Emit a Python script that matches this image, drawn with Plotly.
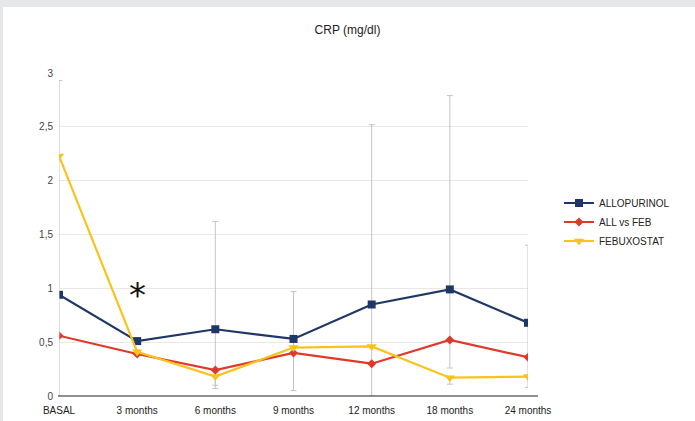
import plotly.graph_objects as go

# Visit labels and mean CRP values (mg/dl) per group
months = ["BASAL", "3 months", "6 months", "9 months", "12 months", "18 months", "24 months"]
allopurinol = [0.94, 0.51, 0.62, 0.53, 0.85, 0.99, 0.68]
all_vs_feb = [0.56, 0.39, 0.24, 0.40, 0.30, 0.52, 0.36]
febuxostat = [2.23, 0.41, 0.18, 0.45, 0.46, 0.17, 0.18]

# Dispersion bars (upper / lower extent from the mean)
allo_err_plus = [None, None, 1.00, 0.44, 1.67, 1.80, 0.72]
allo_err_minus = [None, None, 0.55, 0.48, 0.85, 0.73, 0.60]
febu_err_plus = [0.70, None, None, None, None, None, None]
febu_err_minus = [2.23, None, 0.08, None, None, 0.06, None]

NAVY = "#1f3768"
RED = "#e0392a"
YELLOW = "#f8c31c"
ERR = "#c4c4c4"

fig = go.Figure()

fig.add_trace(go.Scatter(
    x=months, y=allopurinol, name="ALLOPURINOL", mode="lines+markers",
    line=dict(color=NAVY, width=2.2),
    marker=dict(symbol="square", size=8, color=NAVY),
    error_y=dict(type="data", symmetric=False, array=allo_err_plus,
                 arrayminus=allo_err_minus, color=ERR, thickness=1, width=3),
))
fig.add_trace(go.Scatter(
    x=months, y=all_vs_feb, name="ALL vs FEB", mode="lines+markers",
    line=dict(color=RED, width=2.2),
    marker=dict(symbol="diamond", size=7, color=RED),
))
fig.add_trace(go.Scatter(
    x=months, y=febuxostat, name="FEBUXOSTAT", mode="lines+markers",
    line=dict(color=YELLOW, width=2.2),
    marker=dict(symbol="triangle-down", size=9, color=YELLOW),
    error_y=dict(type="data", symmetric=False, array=febu_err_plus,
                 arrayminus=febu_err_minus, color=ERR, thickness=1, width=3),
))

# significance mark at 3 months
fig.add_annotation(x="3 months", y=0.94, text="*", showarrow=False,
                   font=dict(size=34, color="#111", family="DejaVu Sans"),
                   yanchor="middle")

W, H = 695, 421
L, R, T, B = 59, 167, 73, 25
pw, ph = W - L - R, H - T - B

def px_x(p):
    return (p - L) / pw

def px_y(p):
    return (H - B - p) / ph

fig.update_layout(
    width=W, height=H,
    margin=dict(l=L, r=R, t=T, b=B, autoexpand=False),
    paper_bgcolor="#e6e7e9",
    plot_bgcolor="white",
    separators=",.",
    font=dict(family="Liberation Sans, Arial, sans-serif", size=10, color="#333"),
    title=dict(text="CRP (mg/dl)", x=0.5, xref="container", xanchor="center",
               y=1 - 30 / H, yref="container", yanchor="middle",
               font=dict(size=12, color="#222")),
    legend=dict(x=px_x(559), y=px_y(222), xanchor="left", yanchor="middle",
                font=dict(size=10, color="#222"), bgcolor="rgba(0,0,0,0)"),
    xaxis=dict(type="category", range=[0, 6], showgrid=False, showline=False,
               zeroline=False, tickfont=dict(size=10, color="#222"),
               ticklabelstandoff=7, automargin=False),
    yaxis=dict(range=[0, 3], dtick=0.5, showgrid=True, gridcolor="#e8e8e8",
               gridwidth=1, zeroline=False, showline=False,
               tickfont=dict(size=10, color="#444"), ticklabelstandoff=5,
               automargin=False),
    shapes=[
        # white panel on the grey page
        dict(type="rect", xref="paper", yref="paper", layer="below",
             x0=px_x(3), x1=px_x(W + 5), y0=px_y(H + 5), y1=px_y(7),
             fillcolor="white", line=dict(width=0)),
        # x axis baseline
        dict(type="line", xref="paper", yref="paper",
             x0=px_x(58), x1=px_x(538), y0=0, y1=0,
             line=dict(color="#222", width=1.2)),
    ],
)

fig.write_html("out.html")
